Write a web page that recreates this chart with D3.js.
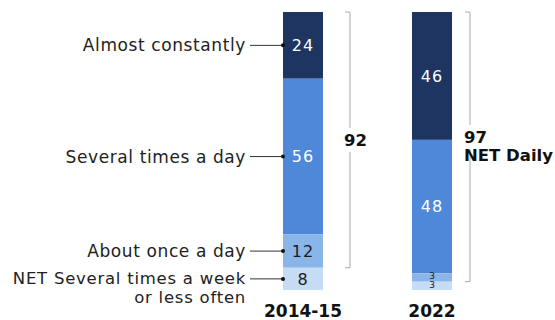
<!DOCTYPE html>
<html><head><meta charset="utf-8">
<script src="https://cdn.jsdelivr.net/npm/d3@7"></script>
<style>body{margin:0;background:#fff}svg{display:block}text{font-family:"DejaVu Sans",sans-serif}</style>
</head><body><div id="c"></div>
<script>
const categories = ["2014-15", "2022"];
const seriesNames = ["Almost constantly", "Several times a day", "About once a day", "NET Several times a week or less often"];
const values2014 = [24, 56, 12, 8];
const values2022 = [46, 48, 3, 3];
const netDaily = [92, 97];
const netLabels = ["92", "97\nNET Daily"];

const W = 555, H = 320;
const colors = ["#1e3561", "#4f88d8", "#8ab5e8", "#c6dcf5"];
const textColors = ["#fff", "#fff", "#1a1a1a", "#1a1a1a"];
const svg = d3.select("#c").append("svg").attr("width", W).attr("height", H);

const x = d3.scaleBand().domain(categories).range([283, 452]).paddingInner(0.69).paddingOuter(0);
const barW = x.bandwidth();
const y = d3.scaleLinear().domain([0, 100]).range([12, 290]);

const data = [values2014, values2022];
data.forEach((vals, bi) => {
  const cat = categories[bi];
  let cum = 0;
  vals.forEach((v, si) => {
    const y0 = y(cum), y1 = y(cum + v);
    svg.append("rect").attr("x", x(cat)).attr("y", y0).attr("width", barW).attr("height", y1 - y0).attr("fill", colors[si]);
    const small = (y1 - y0) < 14;
    const ty = small ? (si === 2 ? y0 + 2 : y1 - 5) : (y0 + y1) / 2;
    svg.append("text").attr("x", x(cat) + barW / 2).attr("y", ty).attr("dy", "0.36em")
      .attr("text-anchor", "middle").attr("fill", textColors[si])
      .attr("font-size", small ? 9 : 16).attr("letter-spacing", small ? 0 : 1).text(v);
    cum += v;
  });
  svg.append("text").attr("x", x(cat) + barW / 2).attr("y", 317).attr("text-anchor", "middle")
    .attr("font-weight", "bold").attr("font-size", 17).attr("fill", "#111").text(cat);
});

// left labels (for the first bar)
let cum = 0;
const labelLines = [["Almost constantly"], ["Several times a day"], ["About once a day"], ["NET Several times a week", "or less often"]];
values2014.forEach((v, si) => {
  const mid = (y(cum) + y(cum + v)) / 2;
  const ly = mid;
  cum += v;
  svg.append("line").attr("x1", 250).attr("x2", x(categories[0])).attr("y1", ly).attr("y2", ly).attr("stroke", "#333").attr("stroke-width", 1);
  svg.append("circle").attr("cx", x(categories[0])).attr("cy", ly).attr("r", 2).attr("fill", "#111");
  const multi = labelLines[si].length > 1;
  labelLines[si].forEach((t, li) => {
    svg.append("text").attr("x", 246).attr("y", ly + (multi ? -1 : 0) + li * 19).attr("dy", "0.36em").attr("text-anchor", "end")
      .attr("font-size", multi ? 16.5 : 17).attr("letter-spacing", multi ? 0.75 : 0.6).attr("fill", "#222").text(t);
  });
});

// brackets
const bx = [350, 470];
netDaily.forEach((n, bi) => {
  const top = y(0), bot = y(n);
  const lines = netLabels[bi].split("\n");
  const mid = (top + bot) / 2;
  const firstY = mid - (lines.length - 1) * 10;
  const gapTop = firstY - 12, gapBot = firstY + 12 + (lines.length - 1) * 1;
  const g = svg.append("g").attr("stroke", "#aaa").attr("fill", "none").attr("stroke-width", 1);
  g.append("path").attr("d", `M${bx[bi] - 5},${top}H${bx[bi]}V${gapTop}`);
  g.append("path").attr("d", `M${bx[bi]},${gapBot}V${bot}H${bx[bi] - 5}`);
  lines.forEach((t, li) => {
    svg.append("text").attr("x", bx[bi] - 6).attr("y", firstY + li * 18).attr("dy", "0.36em")
      .attr("font-weight", "bold").attr("font-size", 16.5).attr("fill", "#111").text(t);
  });
});
</script></body></html>
